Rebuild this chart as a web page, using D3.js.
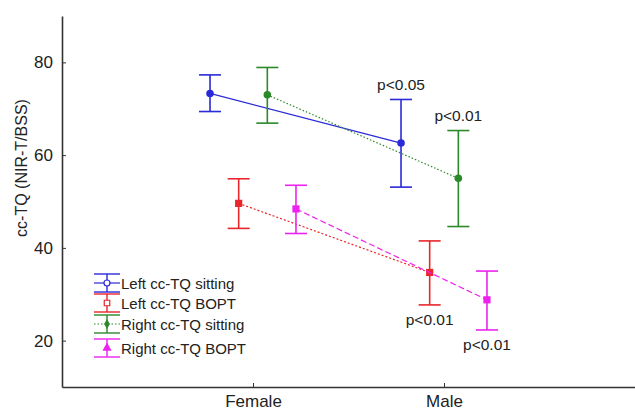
<!DOCTYPE html>
<html><head><meta charset="utf-8">
<script src="https://cdn.jsdelivr.net/npm/d3@7"></script>
<style>body{margin:0;background:#fff}svg{display:block;font-family:"Liberation Sans",Arial,sans-serif}</style>
</head><body><svg id="c" width="635" height="412"></svg>
<script>
const categories = ["Female", "Male"];
const seriesNames = ["Left cc-TQ sitting", "Left cc-TQ BOPT", "Right cc-TQ sitting", "Right cc-TQ BOPT"];
const leftSittingMean = [73.3, 62.6], leftSittingLow = [69.4, 53.1], leftSittingHigh = [77.3, 72.0];
const leftBoptMean = [49.6, 34.7], leftBoptLow = [44.2, 27.7], leftBoptHigh = [54.9, 41.5];
const rightSittingMean = [73.0, 55.0], rightSittingLow = [66.9, 44.6], rightSittingHigh = [78.9, 65.3];
const rightBoptMean = [48.4, 28.8], rightBoptLow = [43.1, 22.3], rightBoptHigh = [53.5, 35.0];
const yTicks = [20, 40, 60, 80];
const pLabels = ["p<0.05", "p<0.01", "p<0.01", "p<0.01"]; // for Male, per series
const pSide = ["above", "below", "above", "below"];

const colors = ["#2a2ad8", "#e8262b", "#2a8a2a", "#ee22ee"];
const dashes = [null, "2,2", "1.5,2", "6,3"];
const markers = ["circle", "square", "circle", "square"];

const series = seriesNames.map((name, i) => ({
  name, mean: [leftSittingMean, leftBoptMean, rightSittingMean, rightBoptMean][i],
  low: [leftSittingLow, leftBoptLow, rightSittingLow, rightBoptLow][i],
  high: [leftSittingHigh, leftBoptHigh, rightSittingHigh, rightBoptHigh][i],
  color: colors[i], dash: dashes[i], marker: markers[i], p: pLabels[i], side: pSide[i]
}));

const svg = d3.select("#c");
const x = d3.scaleLinear().domain([0, 3]).range([62, 635]);
const y = d3.scaleLinear().domain([10, 90]).range([387, 16]);
const off = d3.scalePoint().domain(seriesNames).range([-0.225, 0.225]);
const cx = (s, j) => x(j + 1 + off(s.name));

// axes
const yAxis = d3.axisLeft(y).tickValues(yTicks).tickSizeInner(-4).tickSizeOuter(0).tickPadding(9);
const gy = svg.append("g").attr("transform", "translate(62,0)").call(yAxis);
const xAxis = d3.axisBottom(x).tickValues([1, 2]).tickFormat(d => categories[d - 1]).tickSizeInner(-4).tickSizeOuter(0).tickPadding(8);
const gx = svg.append("g").attr("transform", "translate(0,387)").call(xAxis);
[gy, gx].forEach(g => {
  g.select(".domain").attr("stroke", "#333").attr("stroke-width", 1.6);
  g.selectAll(".tick line").attr("stroke", "#333");
  g.selectAll("text").attr("font-size", 17).attr("fill", "#222").attr("font-family", '"Liberation Sans",Arial,sans-serif');
});

svg.append("text").attr("transform", "translate(27,168) rotate(-90)").attr("text-anchor", "middle")
  .attr("font-size", 16).attr("fill", "#222").text("cc-TQ (NIR-T/BSS)");

const cap = 11;
series.forEach(s => {
  const g = svg.append("g");
  g.append("line").attr("x1", cx(s, 0)).attr("y1", y(s.mean[0])).attr("x2", cx(s, 1)).attr("y2", y(s.mean[1]))
    .attr("stroke", s.color).attr("stroke-width", 1.2).attr("stroke-dasharray", s.dash);
  categories.forEach((c, j) => {
    const xx = cx(s, j);
    g.append("line").attr("x1", xx).attr("x2", xx).attr("y1", y(s.low[j])).attr("y2", y(s.high[j])).attr("stroke", s.color).attr("stroke-width", 1.6);
    [s.low[j], s.high[j]].forEach(v => g.append("line").attr("x1", xx - cap).attr("x2", xx + cap).attr("y1", y(v)).attr("y2", y(v)).attr("stroke", s.color).attr("stroke-width", 1.6));
    if (s.marker === "circle") g.append("circle").attr("cx", xx).attr("cy", y(s.mean[j])).attr("r", 3.8).attr("fill", s.color);
    else g.append("rect").attr("x", xx - 3.6).attr("y", y(s.mean[j]) - 3.6).attr("width", 7.2).attr("height", 7.2).attr("fill", s.color);
  });
  const yy = s.side === "above" ? y(s.high[1]) - 15 : y(s.low[1]) + 15;
  svg.append("text").attr("x", cx(s, 1)).attr("y", yy).attr("text-anchor", "middle").attr("dominant-baseline", "central")
    .attr("font-size", 15.5).attr("fill", "#222").text(s.p);
});

// legend
const legY = [283, 303, 324, 348];
series.forEach((s, i) => {
  const g = svg.append("g").attr("transform", `translate(107,${legY[i]})`);
  if (i === 0 || i === 2) g.append("line").attr("x1", -13).attr("x2", 13).attr("y1", 0).attr("y2", 0).attr("stroke", s.color).attr("stroke-width", 1.2).attr("stroke-dasharray", s.dash);
  g.append("line").attr("x1", 0).attr("x2", 0).attr("y1", -9).attr("y2", 9).attr("stroke", s.color).attr("stroke-width", 1.4);
  [-9, 9].forEach(v => g.append("line").attr("x1", -13).attr("x2", 13).attr("y1", v).attr("y2", v).attr("stroke", s.color).attr("stroke-width", 1.4));
  const sym = [d3.symbolCircle, d3.symbolSquare, d3.symbolDiamond, d3.symbolTriangle][i];
  const sz = [28, 30, 16, 22][i];
  g.append("path").attr("d", d3.symbol(sym, sz)()).attr("fill", i >= 2 ? s.color : "#fff").attr("stroke", s.color).attr("stroke-width", 1.2);
  g.append("text").attr("x", 14).attr("y", 0).attr("dominant-baseline", "central").attr("font-size", 15).attr("fill", "#222").text(s.name);
});
</script></body></html>
